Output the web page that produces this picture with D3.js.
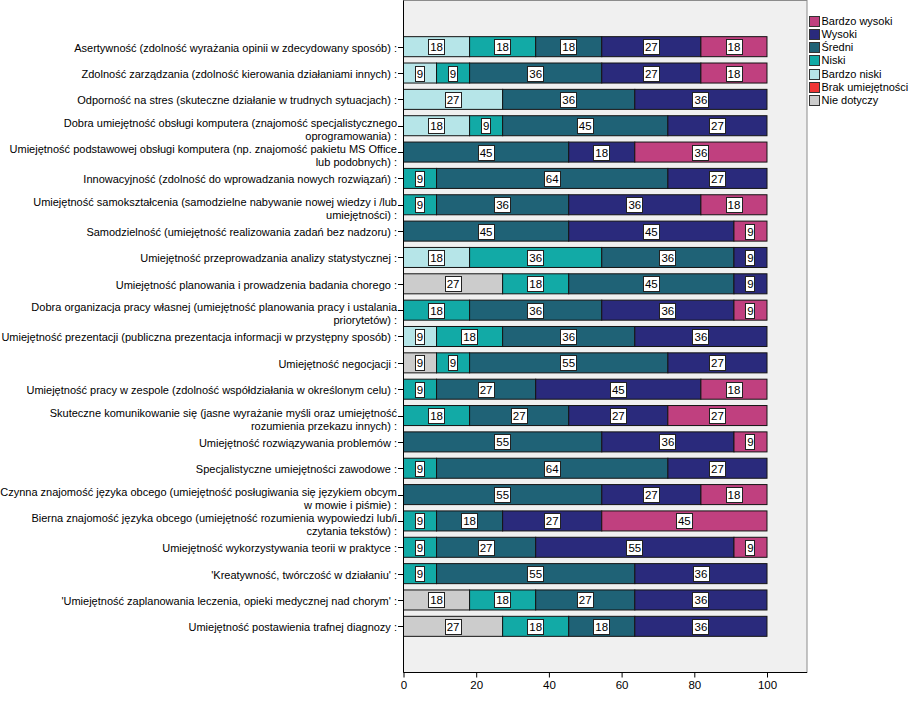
<!DOCTYPE html>
<html><head><meta charset="utf-8">
<script src="https://cdn.jsdelivr.net/npm/d3@7"></script>
<style>
body{margin:0;background:#fff;}
text{font-family:Arial,"Liberation Sans",sans-serif;}
</style>
</head><body>
<svg id="c" width="909" height="727"></svg>
<script>
const categories = [
  "Asertywność (zdolność wyrażania opinii w zdecydowany sposób) :",
  "Zdolność zarządzania (zdolność kierowania działaniami innych) :",
  "Odporność na stres (skuteczne działanie w trudnych sytuacjach) :",
  "Dobra umiejętność obsługi komputera (znajomość specjalistycznego\noprogramowania) :",
  "Umiejętność podstawowej obsługi komputera (np. znajomość pakietu MS Office\nlub podobnych) :",
  "Innowacyjność (zdolność do wprowadzania nowych rozwiązań) :",
  "Umiejętność samokształcenia (samodzielne nabywanie nowej wiedzy i /lub\numiejętności) :",
  "Samodzielność (umiejętność realizowania zadań bez nadzoru) :",
  "Umiejętność przeprowadzania analizy statystycznej :",
  "Umiejętność planowania i prowadzenia badania chorego :",
  "Dobra organizacja pracy własnej (umiejętność planowania pracy i ustalania\npriorytetów) :",
  "Umiejętność prezentacji (publiczna prezentacja informacji w przystępny sposób) :",
  "Umiejętność negocjacji :",
  "Umiejętność pracy w zespole (zdolność współdziałania w określonym celu) :",
  "Skuteczne komunikowanie się (jasne wyrażanie myśli oraz umiejętność\nrozumienia przekazu innych) :",
  "Umiejętność rozwiązywania problemów :",
  "Specjalistyczne umiejętności zawodowe :",
  "Czynna znajomość języka obcego (umiejętność posługiwania się językiem obcym\nw mowie i piśmie) :",
  "Bierna znajomość języka obcego (umiejętność rozumienia wypowiedzi lub/i\nczytania tekstów) :",
  "Umiejętność wykorzystywania teorii w praktyce :",
  "'Kreatywność, twórczość w działaniu' :",
  "'Umiejętność zaplanowania leczenia, opieki medycznej nad chorym' :",
  "Umiejętność postawienia trafnej diagnozy :"
];

// series in stacking order (left to right)
const seriesNames = ["Nie dotyczy","Brak umiejętności","Bardzo niski","Niski","Średni","Wysoki","Bardzo wysoki"];
const seriesColors = ["#cccccc","#ee3434","#b6e5e8","#12aaa6","#1f6276","#2a2a7c","#c0407f"];
// legend order (top to bottom)
const legendOrder = ["Bardzo wysoki","Wysoki","Średni","Niski","Bardzo niski","Brak umiejętności","Nie dotyczy"];

const nieDotyczy   = [0,0,0,0,0,0,0,0,0,27.27,0,0,9.09,0,0,0,0,0,0,0,0,18.18,27.27];
const brak         = [0,0,0,0,0,0,0,0,0,0,0,0,0,0,0,0,0,0,0,0,0,0,0];
const bardzoNiski  = [18.18,9.09,27.27,18.18,0,0,0,0,18.18,0,0,9.09,0,0,0,0,0,0,0,0,0,0,0];
const niski        = [18.18,9.09,0,9.09,0,9.09,9.09,0,36.36,18.18,18.18,18.18,9.09,9.09,18.18,0,9.09,0,9.09,9.09,9.09,18.18,18.18];
const sredni       = [18.18,36.36,36.36,45.45,45.45,63.64,36.36,45.45,36.36,45.45,36.36,36.36,54.55,27.27,27.27,54.55,63.64,54.55,18.18,27.27,54.55,27.27,18.18];
const wysoki       = [27.27,27.27,36.36,27.27,18.18,27.27,36.36,45.45,9.09,9.09,36.36,36.36,27.27,45.45,27.27,36.36,27.27,27.27,27.27,54.55,36.36,36.36,36.36];
const bardzoWysoki = [18.18,18.18,0,0,36.36,0,18.18,9.09,0,0,9.09,0,0,18.18,27.27,9.09,0,18.18,45.45,9.09,0,0,0];

const xTicks = [0,20,40,60,80,100];

const seriesValues = [nieDotyczy, brak, bardzoNiski, niski, sredni, wysoki, bardzoWysoki];
const rows = categories.map((c,i) => {
  const r = {idx: i, label: c};
  seriesNames.forEach((s,j) => r[s] = seriesValues[j][i]);
  return r;
});

const svg = d3.select("#c");
const x = d3.scaleLinear().domain([0,111]).range([403.5, 807]);
const y = d3.scaleBand().domain(d3.range(categories.length)).range([33.5, 639.5]).paddingInner(0.24).paddingOuter(0.12);
const color = d3.scaleOrdinal().domain(seriesNames).range(seriesColors);
const plotTop = 0.5, plotBottom = 672.5;

// plot background
svg.append("rect").attr("x", x(0)).attr("y", plotTop)
  .attr("width", x(111)-x(0)).attr("height", plotBottom-plotTop)
  .attr("fill","#f0f0f0").attr("stroke","#8c8c8c").attr("stroke-width",1);

const stack = d3.stack().keys(seriesNames);
const stacked = stack(rows);

const gBars = svg.append("g");
stacked.forEach(layer => {
  gBars.append("g").selectAll("rect").data(layer.filter(d => d[1]-d[0] > 0)).join("rect")
    .attr("x", d => x(d[0]))
    .attr("y", d => y(d.data.idx))
    .attr("width", d => x(d[1]) - x(d[0]))
    .attr("height", y.bandwidth())
    .attr("fill", color(layer.key))
    .attr("stroke", "#141414").attr("stroke-width", 1);
});

// value labels
const gLab = svg.append("g");
stacked.forEach(layer => {
  layer.filter(d => d[1]-d[0] > 0).forEach(d => {
    const cx = (x(d[0]) + x(d[1]))/2;
    const cy = y(d.data.idx) + y.bandwidth()/2;
    const txt = String(Math.round(d[1]-d[0]));
    const g = gLab.append("g");
    const t = g.append("text").attr("x", cx).attr("y", cy+4.5)
      .attr("text-anchor","middle").attr("font-size",11.5).attr("fill","#000").text(txt);
    const w = t.node().getComputedTextLength();
    g.insert("rect","text").attr("x", Math.round(cx - w/2 - 2)+0.5).attr("y", Math.round(cy-7.5)+0.5)
      .attr("width", Math.round(w+3)).attr("height", 15)
      .attr("fill","#fff").attr("stroke","#222").attr("stroke-width",1);
  });
});

// Y axis
svg.append("line").attr("x1", 403.5).attr("x2", 403.5).attr("y1", plotTop).attr("y2", plotBottom)
  .attr("stroke","#000");
const gY = svg.append("g");
rows.forEach(r => {
  const cy = Math.round(y(r.idx) + y.bandwidth()/2) + 0.5;
  gY.append("line").attr("x1", 398).attr("x2", 403.5).attr("y1", cy).attr("y2", cy).attr("stroke","#000");
  const lines = r.label.split("\n");
  const t = gY.append("text").attr("text-anchor","end").attr("font-size",11).attr("fill","#000");
  if (lines.length === 1) {
    t.append("tspan").attr("x", 397).attr("y", cy+4).text(lines[0]);
  } else {
    lines.forEach((ln,k) => t.append("tspan").attr("x", 397).attr("y", cy + 0.5 + k*12.5).text(ln));
  }
});

// X axis
const xAxis = d3.axisBottom(x).tickValues(xTicks).tickSize(5).tickPadding(3).tickFormat(d3.format("d"));
const gX = svg.append("g").attr("transform", `translate(0,${plotBottom})`).call(xAxis);
gX.select(".domain").attr("d", `M${x(0)},0H${x(111)}`).attr("stroke","#000");
gX.selectAll("text").attr("font-size",11.5).attr("fill","#000").style("font-family","Arial, 'Liberation Sans', sans-serif");
gX.selectAll(".tick line").attr("stroke","#000");

// Legend
const gL = svg.append("g");
legendOrder.forEach((name,i) => {
  const cy = 20.5 + i*13.3;
  gL.append("rect").attr("x", 809.5).attr("y", Math.round(cy-5)+0.5).attr("width", 10).attr("height", 10)
    .attr("fill", color(name)).attr("stroke","#333");
  gL.append("text").attr("x", 821.5).attr("y", cy+4).attr("font-size",11).attr("fill","#000").text(name);
});
</script>
</body></html>
